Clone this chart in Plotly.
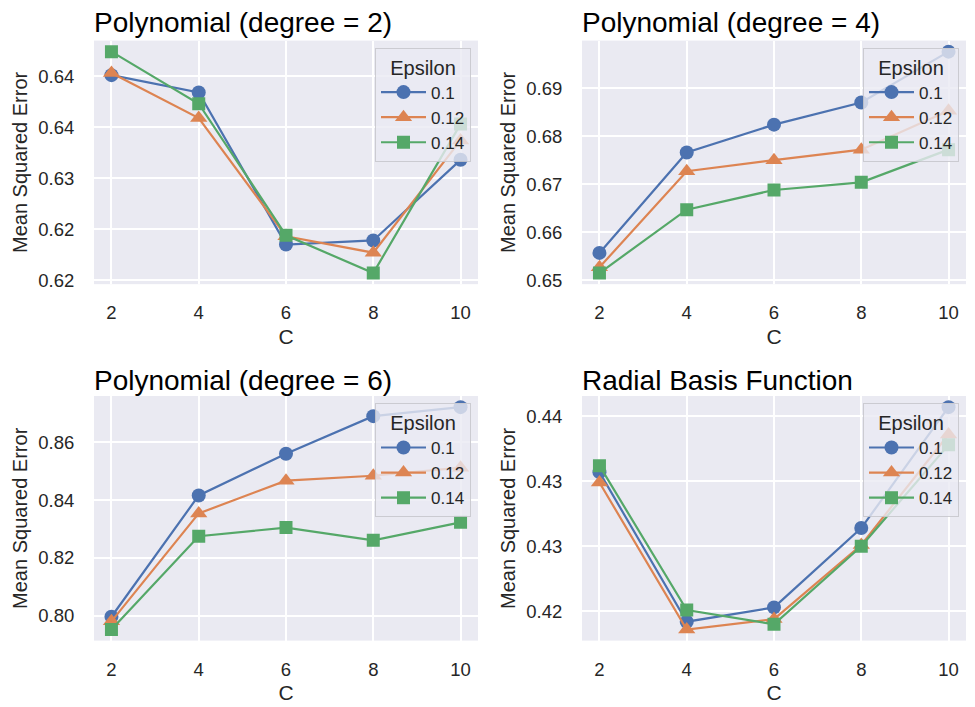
import plotly.graph_objects as go

C_values = [2, 4, 6, 8, 10]
epsilons = ["0.1", "0.12", "0.14"]

titles = ["Polynomial (degree = 2)", "Polynomial (degree = 4)",
          "Polynomial (degree = 6)", "Radial Basis Function"]

# MSE per panel, per epsilon
poly2 = {
    "0.1": [0.6401, 0.6384, 0.6235, 0.6239, 0.6318],
    "0.12": [0.6403, 0.6359, 0.6243, 0.6227, 0.6337],
    "0.14": [0.6424, 0.6373, 0.6244, 0.6207, 0.6353],
}
poly4 = {
    "0.1": [0.6557, 0.6766, 0.6824, 0.6870, 0.6976],
    "0.12": [0.6527, 0.6727, 0.6750, 0.6772, 0.6853],
    "0.14": [0.6515, 0.6647, 0.6688, 0.6704, 0.6772],
}
poly6 = {
    "0.1": [0.7997, 0.8416, 0.8560, 0.8690, 0.8721],
    "0.12": [0.7981, 0.8354, 0.8467, 0.8484, 0.8512],
    "0.14": [0.7953, 0.8275, 0.8305, 0.8261, 0.8323],
}
rbf = {
    "0.1": [0.4357, 0.4242, 0.4253, 0.4314, 0.4407],
    "0.12": [0.4349, 0.4236, 0.4244, 0.4301, 0.4386],
    "0.14": [0.4362, 0.4251, 0.4240, 0.4300, 0.4378],
}
panels = [poly2, poly4, poly6, rbf]

# y tick values and labels (as printed in the reference)
ytickvals = [
    [0.620, 0.625, 0.630, 0.635, 0.640],
    [0.65, 0.66, 0.67, 0.68, 0.69, 0.70],
    [0.80, 0.82, 0.84, 0.86],
    [0.425, 0.430, 0.435, 0.440],
]
yticktext = [
    ["0.62", "0.62", "0.63", "0.64", "0.64"],
    ["0.65", "0.66", "0.67", "0.68", "0.69", "0.70"],
    ["0.80", "0.82", "0.84", "0.86"],
    ["0.42", "0.43", "0.43", "0.44"],
]

colors = ["#4C72B0", "#DD8452", "#55A868"]
symbols = ["circle", "triangle-up", "square"]
msizes = [14, 15, 13]

W, H = 975, 707
# panel pixel boxes: (left, right, top, bottom)
boxes = [(94, 478, 41, 287), (582, 966, 41, 287),
         (94, 478, 400, 647), (582, 966, 400, 647)]
title_y = [23, 23, 384, 384]

FONT = "Liberation Sans, Arial, sans-serif"
fig = go.Figure()
layout = dict(
    width=W, height=H,
    margin=dict(l=0, r=0, t=0, b=0),
    paper_bgcolor="white",
    plot_bgcolor="#EAEAF2",
    font=dict(family=FONT, size=18, color="#262626"),
    showlegend=True,
    annotations=[],
)

for i, data in enumerate(panels):
    ax = "" if i == 0 else str(i + 1)
    leg = "legend" if i == 0 else f"legend{i + 1}"
    for j, eps in enumerate(epsilons):
        fig.add_trace(go.Scatter(
            x=C_values, y=data[eps], mode="lines+markers", name=eps,
            line=dict(color=colors[j], width=2.2),
            marker=dict(symbol=symbols[j], size=msizes[j], color=colors[j]),
            xaxis="x" + ax, yaxis="y" + ax, legend=leg,
        ))
    l, r, t, b = boxes[i]
    vals = [v for eps in epsilons for v in data[eps]]
    lo, hi = min(vals), max(vals)
    pad = (hi - lo) * 0.05
    layout["xaxis" + ax] = dict(
        domain=[l / W, r / W], anchor="y" + ax, range=[1.6, 10.4],
        tickvals=C_values, showgrid=True, gridcolor="white", gridwidth=1.5,
        zeroline=False, ticks="outside", ticklen=12, tickcolor="rgba(0,0,0,0)",
        title=dict(text="C", standoff=6, font=dict(size=21, color="#262626")),
        tickfont=dict(size=18.5, color="#262626"),
    )
    layout["yaxis" + ax] = dict(
        domain=[1 - b / H, 1 - t / H], anchor="x" + ax, range=[lo - pad, hi + pad],
        tickvals=ytickvals[i], ticktext=yticktext[i],
        showgrid=True, gridcolor="white", gridwidth=1.5,
        zeroline=False, ticks="outside", ticklen=15, tickcolor="rgba(0,0,0,0)",
        title=dict(text="Mean Squared Error", standoff=5, font=dict(size=20, color="#262626")),
        tickfont=dict(size=18.5, color="#262626"),
    )
    layout[leg] = dict(
        x=(r - 7) / W, y=1 - (t + 7) / H, xanchor="right", yanchor="top",
        bgcolor="rgba(234,234,242,0.8)", bordercolor="rgba(200,200,205,0.9)",
        borderwidth=1,
        title=dict(text="Epsilon", side="top center", font=dict(size=20, color="#262626")),
        font=dict(size=17, color="#262626"),
        tracegroupgap=0, itemwidth=45,
    )
    layout["annotations"].append(dict(
        text=titles[i], xref="paper", yref="paper",
        x=(l - 2) / W, y=1 - title_y[i] / H, xanchor="left", yanchor="middle",
        showarrow=False, font=dict(size=28, color="black", family=FONT),
    ))

fig.update_layout(**layout)
fig.write_html("out.html", config={"displayModeBar": False},
               post_script="document.body.style.margin='0';")
